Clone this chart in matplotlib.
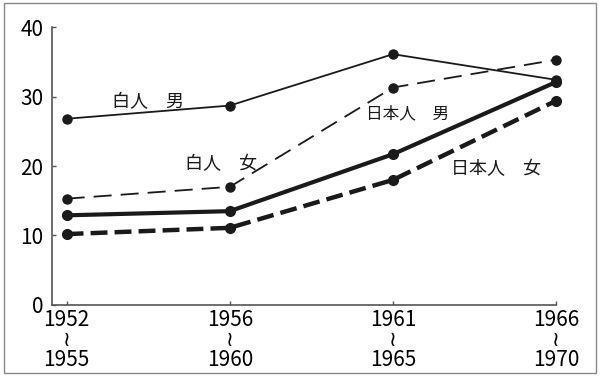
import matplotlib
matplotlib.use("Agg")
import matplotlib.pyplot as plt
from matplotlib.patches import Rectangle

plt.rcParams['font.family'] = ['Noto Sans CJK JP', 'DejaVu Sans']

periods = ["1952\n≀\n1955", "1956\n≀\n1960", "1961\n≀\n1965", "1966\n≀\n1970"]
white_male = [26.8, 28.7, 36.1, 32.4]
white_female = [15.3, 17.0, 31.3, 35.3]
japanese_male = [12.9, 13.5, 21.7, 32.1]
japanese_female = [10.2, 11.1, 18.0, 29.4]
y_ticks = [0, 10, 20, 30, 40]

fig = plt.figure(figsize=(6.0, 3.76), dpi=100)
fig.patches.append(Rectangle((0.006, 0.008), 0.988, 0.984, transform=fig.transFigure,
                             fill=False, edgecolor='#888888', linewidth=1.0))
ax = fig.add_axes([0.086, 0.189, 0.841, 0.739])

x = list(range(len(periods)))
c = '#1a1a1a'
ax.plot(x, white_male, color=c, lw=1.3, marker='o', ms=6.5, clip_on=False)
ax.plot(x, white_female, color=c, lw=1.3, ls=(0, (10, 5)), marker='o', ms=6.5, clip_on=False)
ax.plot(x, japanese_male, color=c, lw=3.0, marker='o', ms=7, clip_on=False)
ax.plot(x, japanese_female, color=c, lw=3.2, ls=(0, (3.8, 1.6)), marker='o', ms=7, clip_on=False)

ax.set_xlim(-0.092, 3.0)
ax.set_ylim(0, 40)
ax.set_xticks(x)
ax.set_xticklabels(periods, fontsize=15, linespacing=0.88)
ax.set_yticks(y_ticks)
ax.set_yticklabels([str(v) for v in y_ticks], fontsize=15)
ax.tick_params(axis='both', direction='in', length=3, width=1, color='#555555', pad=3)
ax.tick_params(axis='y', pad=6)

for s in ['top', 'right']:
    ax.spines[s].set_visible(False)
for s in ['left', 'bottom']:
    ax.spines[s].set_color('#555555')
    ax.spines[s].set_linewidth(1.2)

ax.text(0.5, 29.2, "白人　男", fontsize=13, ha='center', va='center', color=c)
ax.text(0.945, 20.3, "白人　女", fontsize=13, ha='center', va='center', color=c)
ax.text(2.09, 27.5, "日本人　男", fontsize=12, ha='center', va='center', color=c)
ax.text(2.63, 19.6, "日本人　女", fontsize=13, ha='center', va='center', color=c)

fig.savefig("out.png", dpi=100, facecolor='white')
